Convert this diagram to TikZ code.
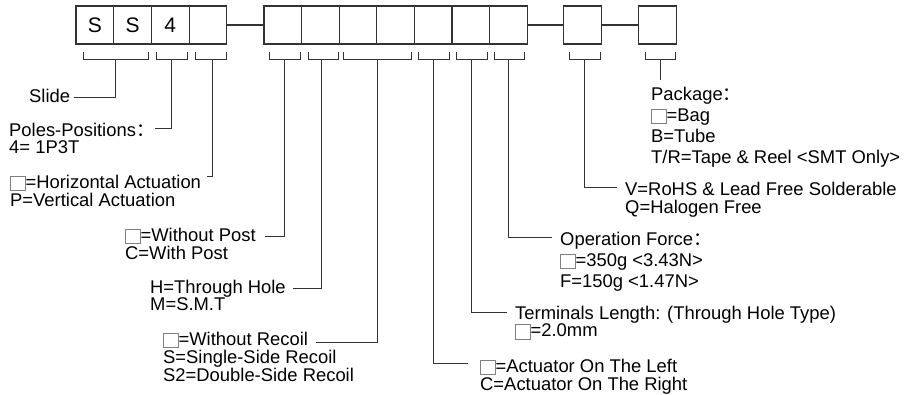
\documentclass[tikz,border=0pt]{standalone}
\usepackage{fontspec}
\setmainfont{Liberation Sans}
\newfontfamily\cjkfont{Noto Sans CJK SC}
\newcommand\fwcolon{{\cjkfont ：}}
\newcommand\blankbox{\raisebox{-2pt}{\textcolor{black!50}{\fboxsep=0pt\fboxrule=0.7pt\fbox{\rule{0pt}{13.8pt}\rule{14pt}{0pt}}}}}
\newcommand\lns[1]{\begin{tabular}[t]{@{}l@{}}#1\end{tabular}}
\begin{document}
\begin{tikzpicture}[x=1pt,y=-1pt,
  cell/.style={draw=black!80, line width=1.1pt, minimum width=37.7pt, minimum height=38pt, inner sep=0pt, font=\fontsize{21}{24}\selectfont},
  lbl/.style={anchor=base west, inner sep=0pt, font=\fontsize{18.4}{17}\selectfont},
  lblwide/.style={anchor=base west, inner sep=0pt, font=\fontsize{18.4}{21}\selectfont},
  wire/.style={draw=black!80, line width=0.95pt}]
\useasboundingbox (0,0) rectangle (920,394);
% code boxes
\node[cell] (b1) at (94.85,25) {S};
\node[cell] (b2) at (132.55,25) {S};
\node[cell] (b3) at (170.25,25) {4};
\node[cell] (b4) at (207.95,25) {};
\node[cell] (b5) at (282.85,25) {};
\node[cell] (b6) at (320.45,25) {};
\node[cell] (b7) at (358.05,25) {};
\node[cell] (b8) at (395.65,25) {};
\node[cell] (b9) at (433.25,25) {};
\node[cell] (b10) at (470.85,25) {};
\node[cell] (b11) at (508.45,25) {};
\node[cell] (b12) at (582.35,25) {};
\node[cell] (b13) at (657.55,25) {};
\draw[cell] (b4.east) -- (b5.west);
\draw[cell] (b11.east) -- (b12.west);
\draw[cell] (b12.east) -- (b13.west);
% brackets
\foreach \n/\l/\r/\s in {1/83/148/115, 2/156/187/171, 3/195/226/212, 4/269/300/284,
  5/308/338/321, 6/343/411/377, 7/418/449/433, 8/456/487/471, 9/494/524/508,
  10/569/600/584, 11/645/675/660}{
  \draw[wire] (\l,52) -- (\l,59) -- (\r,59) -- (\r,52);
  \coordinate (k\n) at (\s,59);
}
% labels
\node[lbl] (slide) at (29,102) {Slide};
\node[lbl] (poles) at (9,136) {\lns{Poles-Positions\fwcolon\\4= 1P3T}};
\node[lbl] (horiz) at (10,188) {\lns{\blankbox=Horizontal Actuation\\P=Vertical Actuation}};
\node[lbl] (post) at (125,241) {\lns{\blankbox=Without Post\\C=With Post}};
\node[lbl] (hole) at (150,293) {\lns{H=Through Hole\\M=S.M.T}};
\node[lbl] (recoil) at (163,345) {\lns{\blankbox=Without Recoil\\S=Single-Side Recoil\\S2=Double-Side Recoil}};
\node[lbl] (actl) at (480,372) {\lns{\blankbox=Actuator On The Left\\C=Actuator On The Right}};
\node[lbl] (term) at (515,319) {\lns{Terminals Length: (Through Hole Type)\\\blankbox=2.0mm}};
\node[lblwide] (force) at (560,245) {\lns{Operation Force\fwcolon\\\blankbox=350g <3.43N>\\F=150g <1.47N>}};
\node[lbl] (rohs) at (625,195) {\lns{V=RoHS \& Lead Free Solderable\\Q=Halogen Free}};
\node[lblwide] (pkg) at (651,100) {\lns{Package\fwcolon\\\blankbox=Bag\\B=Tube\\T/R=Tape \& Reel <SMT Only>}};
% connector ends
\coordinate (e1) at (74,97);
\coordinate (e2) at (155,128);
\coordinate (e3) at (207,176);
\coordinate (e4) at (265,236);
\coordinate (e5) at (293,288);
\coordinate (e6) at (316,342);
\coordinate (e7) at (468,363);
\coordinate (e8) at (507,312);
\coordinate (e9) at (552,237);
\coordinate (e10) at (617,187);
\coordinate (e11) at (660,80);
\foreach \n in {1,...,10}{\draw[wire] (k\n) |- (e\n);}
\draw[wire] (k11) -- (e11);
\end{tikzpicture}
\end{document}
